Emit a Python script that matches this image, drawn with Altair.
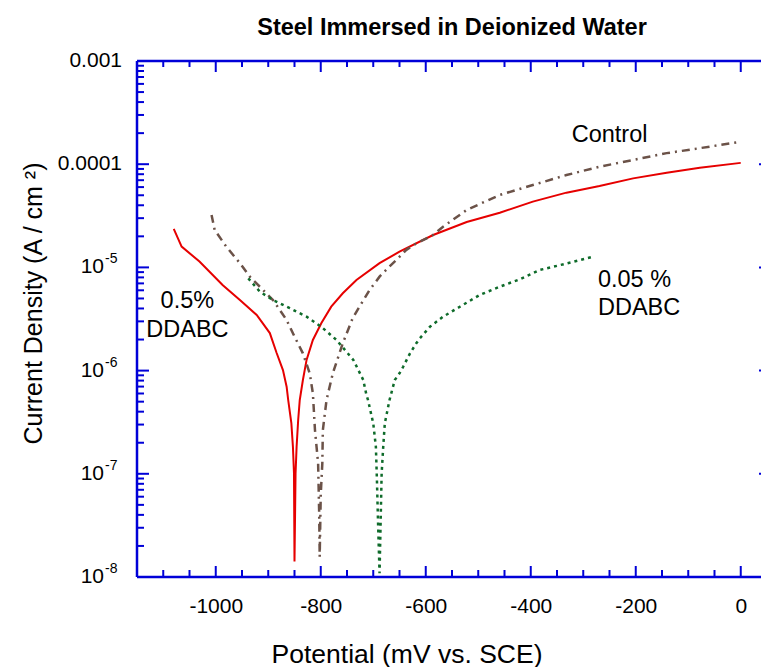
import altair as alt
import pandas as pd

FONT = "Liberation Sans"
BLUE = "#0000D8"
RED = "#E60000"
BROWN = "#6B5248"
GREEN = "#0E6B2A"

title_text = "Steel Immersed in Deionized Water"
x_title = "Potential (mV vs. SCE)"
y_title = "Current Density (A / cm \u00b2)"

# 0.5 % DDABC (red, solid)
dd05_mv = [-1080, -1065, -1031, -987, -954, -922, -897, -884, -872, -865, -862, -856, -853, -851, -850,
           -848, -846, -843, -840, -834, -827, -815, -799, -780, -758, -732, -688, -650, -586, -522,
           -459, -396, -332, -269, -205, -141, -78, 0]
dd05_i = [2.36e-5, 1.59e-5, 1.14e-5, 6.75e-6, 4.83e-6, 3.46e-6, 2.31e-6, 1.48e-6, 1.01e-6, 6.98e-7,
          5.19e-7, 3.10e-7, 1.83e-7, 1.02e-7, 1.41e-8,
          1.0e-7, 1.83e-7, 3.32e-7, 5.19e-7, 8.11e-7, 1.27e-6, 1.98e-6, 2.87e-6, 4.16e-6, 5.61e-6,
          7.55e-6, 1.10e-5, 1.42e-5, 2.06e-5, 2.75e-5, 3.39e-5, 4.34e-5, 5.30e-5, 6.15e-5, 7.29e-5,
          8.28e-5, 9.25e-5, 1.03e-4]

# Control (brown, dash-dot)
ctrl_mv = [-1008, -1002, -980, -954, -935, -891, -865, -853, -834, -821, -815, -811, -805, -803, -802,
           -800, -797, -796, -789, -777, -758, -739, -707, -688, -669, -656, -637, -618, -586, -567,
           -522, -459, -396, -332, -269, -205, -141, -78, 0]
ctrl_i = [3.22e-5, 2.30e-5, 1.59e-5, 1.10e-5, 8.13e-6, 4.83e-6, 3.09e-6, 2.30e-6, 1.47e-6, 9.42e-7,
          6.03e-7, 2.65e-7, 1.26e-7, 4.14e-8, 1.57e-8,
          6.3e-8, 1.27e-7, 2.65e-7, 5.19e-7, 9.42e-7, 1.84e-6, 3.24e-6, 6.04e-6, 8.13e-6, 1.02e-5,
          1.18e-5, 1.48e-5, 1.71e-5, 2.06e-5, 2.48e-5, 3.60e-5, 5.04e-5, 6.28e-5, 7.85e-5, 9.46e-5,
          1.10e-4, 1.28e-4, 1.43e-4, 1.65e-4]

# 0.05 % DDABC (green, dotted)
dd005_mv = [-938, -916, -891, -859, -827, -799, -770, -738, -719, -713, -710, -700, -695, -693, -691, -688,
            -684, -681, -678, -669, -659, -650, -643, -630, -618, -611, -592, -567, -535, -497, -459,
            -421, -383, -345, -281]
dd005_i = [7.83e-6, 5.82e-6, 4.83e-6, 4.02e-6, 3.33e-6, 2.66e-6, 1.98e-6, 1.27e-6, 8.11e-7, 5.81e-7,
           5.19e-7, 3.08e-7, 1.83e-7, 8.71e-8, 3.56e-8, 1.09e-8,
           1.01e-7, 1.83e-7, 3.08e-7, 5.19e-7, 8.11e-7, 9.42e-7, 1.09e-6, 1.47e-6, 1.84e-6, 2.06e-6,
           2.66e-6, 3.33e-6, 4.16e-6, 5.41e-6, 6.50e-6, 7.67e-6, 9.44e-6, 1.05e-5, 1.27e-5]

# axis ticks and labels
x_major = [-1000, -800, -600, -400, -200, 0]
x_minor = [-1100, -1050, -950, -900, -850, -750, -700, -650, -550, -500, -450,
           -350, -300, -250, -150, -100, -50, 50]
y_major = [1e-8, 1e-7, 1e-6, 1e-5, 1e-4, 1e-3]
y_decades = [1e-8, 1e-7, 1e-6, 1e-5, 1e-4]
y_minor = [m * d for d in y_decades for m in range(2, 10)]
y_plain_vals = [1e-3, 1e-4]
y_plain_text = ["0.001", "0.0001"]
y_pow_vals = [1e-5, 1e-6, 1e-7, 1e-8]
y_pow_exp = ["-5", "-6", "-7", "-8"]

W, H = 624, 516
XR = 630

XS = alt.Scale(domain=[-1150, 50], range=[0, XR], nice=False, zero=False)
YS = alt.Scale(type="log", domain=[1e-8, 1e-3], nice=False)
XAXIS = alt.Axis(
    values=x_major, labelExpr="'' + datum.value", ticks=False, domain=False, grid=False,
    labelFont=FONT, labelFontSize=21, labelColor="black", labelPadding=18,
    labelFlush=False, labelOverlap=False,
    title=x_title, titleFont=FONT, titleFontSize=26.5, titleFontWeight="normal",
    titleColor="black", titleX=269.5, titleY=85, titleBaseline="alphabetic",
    titleAlign="center",
)


def xf(field):
    return alt.X(field, type="quantitative", scale=XS, axis=XAXIS)


def yf(field):
    return alt.Y(field, type="quantitative", scale=YS, axis=None)


def series(mv, cur):
    return pd.DataFrame({"mv": mv, "i": cur, "k": list(range(len(mv)))})


one = pd.DataFrame({"z": [0]})
frame_left = alt.Chart(one).mark_rule(color=BLUE, strokeWidth=2.5).encode(
    x=alt.value(0), y=alt.value(0), y2=alt.value(H))
frame_top = alt.Chart(one).mark_rule(color=BLUE, strokeWidth=2.5).encode(
    y=alt.value(0), x=alt.value(0), x2=alt.value(XR))
frame_bottom = alt.Chart(one).mark_rule(color=BLUE, strokeWidth=2.5).encode(
    y=alt.value(H), x=alt.value(0), x2=alt.value(XR))

xmaj = pd.DataFrame({"v": x_major})
xmin = pd.DataFrame({"v": x_minor})
ymaj = pd.DataFrame({"v": y_major})
ymin = pd.DataFrame({"v": y_minor})

RX = XR + 4  # right-hand frame edge, just beyond the window
tick = dict(color=BLUE, strokeWidth=2)
ticks = [
    alt.Chart(xmaj).mark_rule(**tick).encode(x=xf("v"), y=alt.value(H), y2=alt.value(H - 11)),
    alt.Chart(xmin).mark_rule(**tick).encode(x=xf("v"), y=alt.value(H), y2=alt.value(H - 7)),
    alt.Chart(xmaj).mark_rule(**tick).encode(x=xf("v"), y=alt.value(0), y2=alt.value(11)),
    alt.Chart(xmin).mark_rule(**tick).encode(x=xf("v"), y=alt.value(0), y2=alt.value(6)),
    alt.Chart(ymaj).mark_rule(**tick).encode(y=yf("v"), x=alt.value(0), x2=alt.value(12)),
    alt.Chart(ymin).mark_rule(**tick).encode(y=yf("v"), x=alt.value(0), x2=alt.value(7)),
    alt.Chart(ymaj).mark_rule(**tick).encode(y=yf("v"), x=alt.value(RX), x2=alt.value(RX - 12)),
    alt.Chart(ymin).mark_rule(**tick).encode(y=yf("v"), x=alt.value(RX), x2=alt.value(RX - 7)),
]

red = alt.Chart(series(dd05_mv, dd05_i)).mark_line(
    color=RED, strokeWidth=2, clip=True).encode(x=xf("mv"), y=yf("i"), order="k:Q")
brown = alt.Chart(series(ctrl_mv, ctrl_i)).mark_line(
    color=BROWN, strokeWidth=2.5, strokeDash=[8, 5, 2, 5], clip=True).encode(
    x=xf("mv"), y=yf("i"), order="k:Q")
green = alt.Chart(series(dd005_mv, dd005_i)).mark_line(
    color=GREEN, strokeWidth=2.5, strokeDash=[3, 4], clip=True).encode(
    x=xf("mv"), y=yf("i"), order="k:Q")

txt = dict(font=FONT, color="black")
ylab_plain = alt.Chart(pd.DataFrame({"v": y_plain_vals, "t": y_plain_text})).mark_text(
    align="right", baseline="middle", fontSize=21, **txt).encode(
    y=yf("v"), x=alt.value(-15), text="t:N")
ylab_base = alt.Chart(pd.DataFrame({"v": y_pow_vals, "e": y_pow_exp})).mark_text(
    align="right", baseline="middle", fontSize=21, **txt).encode(
    y=yf("v"), x=alt.value(-33), text=alt.value("10"))
ylab_exp = alt.Chart(pd.DataFrame({"v": y_pow_vals, "e": y_pow_exp})).mark_text(
    align="left", baseline="middle", fontSize=14, dy=-8, **txt).encode(
    y=yf("v"), x=alt.value(-32), text="e:N")
ytitle = alt.Chart(one).mark_text(
    angle=270, align="center", baseline="alphabetic", fontSize=25, **txt).encode(
    x=alt.value(-95), y=alt.value(242.5), text=alt.value(y_title))


def note(lines, mv, cur, align):
    return alt.Chart(one).mark_text(
        text=lines, align=align, baseline="alphabetic", fontSize=23.5, lineHeight=28.3, **txt
    ).encode(
        x=alt.XDatum(mv, scale=XS, axis=XAXIS),
        y=alt.YDatum(cur, scale=YS, axis=None),
    )


notes = [
    note(["Control"], -322, 1.65e-4, "left"),
    note(["0.05 %", "DDABC"], -272, 6.50e-6, "left"),
    note(["0.5%", "DDABC"], -1054, 4.02e-6, "center"),
]

chart = alt.layer(
    frame_left, frame_top, frame_bottom, *ticks, red, brown, green,
    ylab_plain, ylab_base, ylab_exp, ytitle, *notes,
).properties(
    width=W, height=H,
    title=alt.TitleParams(title_text, font=FONT, fontSize=23.5, fontWeight="bold",
                          color="black", anchor="middle", frame="group", offset=11, dx=3),
    autosize=alt.AutoSizeParams(type="none"),
    padding={"left": 137, "top": 61, "right": 0, "bottom": 90},
    background="white",
).configure_view(stroke=None)

chart.save("out.html", embed_options={"renderer": "svg", "actions": False})
